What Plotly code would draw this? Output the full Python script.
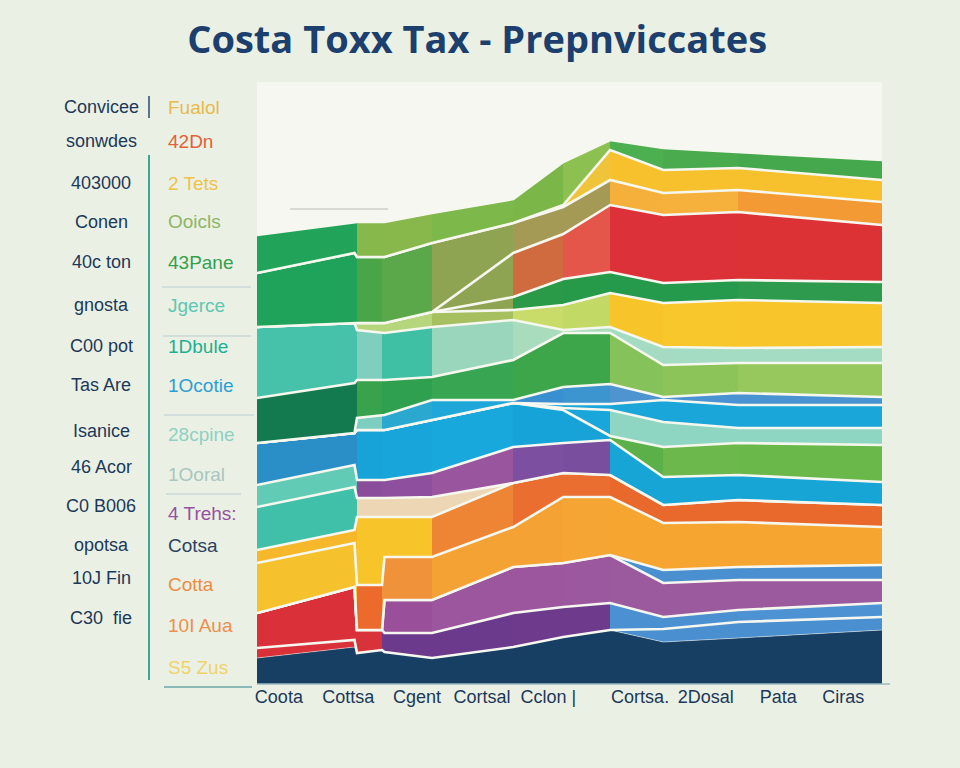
import plotly.graph_objects as go

# ---------------- data ----------------
title_text = "Costa Toxx Tax - Prepnviccates"
x_pos = [0, 15.6, 16, 20, 20.4, 28, 41, 49, 56.5, 65, 77, 100]
tick_pos = [3.5, 14.6, 25.6, 36, 46.6, 61.3, 71.8, 83.4, 93.8]
tick_labels = ["Coota", "Cottsa", "Cgent", "Cortsal", "Cclon |", "Cortsa.", "2Dosal", "Pata", "Ciras"]

left_labels = ["Convicee", "sonwdes", "403000", "Conen", "40c ton", "gnosta", "C00 pot",
               "Tas Are", "Isanice", "46 Acor", "C0 B006", "opotsa", "10J Fin", "C30  fie"]
right_labels = ["Fualol", "42Dn", "2 Tets", "Ooicls", "43Pane", "Jgerce", "1Dbule",
                "1Ocotie", "28cpine", "1Ooral", "4 Trehs:", "Cotsa", "Cotta", "10I Aua", "S5 Zus"]
right_label_colors = ["#e8b94c", "#e2603a", "#efc24a", "#8db566", "#35a04e", "#5ec7b1", "#1faf92",
                      "#2a9fd6", "#8fd0c2", "#a9c6c0", "#9650a0", "#2b4163", "#ee8b45", "#ef8e4c", "#efd36a"]

# cumulative band tops at each x position (bottom -> top)
band_navy = [26, 37, 31, 34, 32, 26, 37, 47, 54, 42, 46, 54]
band_02 = [36, 44, 31, 34, 32, 26, 37, 47, 54, 55, 62, 67]
band_03 = [71, 97, 54, 54, 51, 51, 71, 77, 81, 67, 74, 81]
band_04 = [71, 97, 54, 54, 84, 84, 117, 121, 129, 101, 104, 104]
band_05 = [71, 97, 54, 54, 84, 84, 117, 121, 129, 114, 117, 119]
band_06 = [121, 141, 99, 99, 127, 127, 157, 187, 187, 161, 162, 157]
band_07 = [134, 154, 167, 167, 167, 167, 201, 211, 209, 179, 184, 179]
band_07b = [177, 197, 186, 186, 186, 187, 201, 211, 209, 179, 184, 179]
band_08 = [199, 219, 204, 204, 204, 211, 237, 241, 244, 207, 209, 202]
band_09 = [241, 251, 254, 254, 254, 264, 281, 274, 248, 237, 241, 239]
band_10 = [241, 251, 254, 254, 254, 264, 281, 276, 274, 262, 256, 256]
band_11 = [241, 251, 254, 254, 254, 264, 281, 280, 280, 284, 279, 279]
band_12 = [241, 251, 266, 269, 269, 284, 284, 297, 300, 287, 291, 287]
band_13 = [286, 301, 304, 304, 304, 307, 324, 351, 351, 319, 321, 321]
band_14 = [357, 361, 354, 351, 351, 357, 364, 354, 357, 337, 336, 337]
band_15 = [357, 361, 361, 361, 361, 372, 374, 379, 391, 381, 384, 381]
band_16 = [357, 361, 361, 361, 361, 372, 387, 405, 412, 401, 404, 402]
band_17 = [357, 361, 361, 361, 361, 372, 431, 450, 479, 469, 472, 459]
band_18 = [411, 431, 427, 427, 427, 441, 461, 477, 504, 491, 494, 482]
band_19 = [411, 431, 427, 427, 427, 441, 461, 479, 534, 514, 516, 504]
band_20 = [449, 462, 462, 462, 462, 471, 485, 522, 544, 536, 532, 524]

# colour of each band over each of the 11 x intervals
col_navy = ["#163f63"] * 11
col_02 = ["#d9303a", "#d9303a", "#d9303a", "#6b3a8a", "#6b3a8a", "#6b3a8a", "#6b3a8a", "#6b3a8a", "#4a8fcf", "#4a8fcf", "#4a8fcf"]
col_03 = ["#d9303a", "#d9303a", "#d8323a", "#6c3a8c", "#6c3a8c", "#6c3a8c", "#6e3b8c", "#6e3b8c", "#4b90d0", "#4b90d0", "#4d92d2"]
col_04 = ["#d9303a", "#d9303a", "#d9303a", "#9a4f9a", "#9a4f9a", "#9b569e", "#9b569e", "#9c589e", "#9c5a9e", "#9c5a9e", "#9c5a9e"]
col_05 = ["#d9303a", "#d9303a", "#d9303a", "#9a4f9a", "#9a4f9a", "#9b569e", "#9b569e", "#9c589e", "#4a8fcf", "#4a8fcf", "#4a8fcf"]
col_06 = ["#f5c12c", "#f5c12c", "#eb6a2c", "#f0923a", "#f0923a", "#f4a234", "#f4a234", "#f5a534", "#f6a531", "#f6a531", "#f6a531"]
col_07 = ["#f6b82a", "#f6b82a", "#f7c52a", "#f7c52a", "#f7c52a", "#ee8535", "#ea6e2f", "#ea6e2f", "#e9692c", "#e9692c", "#e9692c"]
col_07b = ["#40c0a8", "#40c0a8", "#ecd6b4", "#ecd6b4", "#ecd6b4", "#ecd6b4", "#ecd6b4", "#ecd6b4", "#ecd6b4", "#ecd6b4", "#ecd6b4"]
col_08 = ["#62cbb6", "#62cbb6", "#8a4d9a", "#8f4f9f", "#8f4f9f", "#9a559f", "#7c4fa0", "#7a4e9e", "#17a5d6", "#17a5d6", "#17a5d6"]
col_09 = ["#2a8fc6", "#2a8fc6", "#17a3d7", "#18a6da", "#18a6da", "#19a8dc", "#15a3d8", "#17a3d7", "#5cb04a", "#6cb84c", "#6ab84a"]
col_10 = ["#2a8fc6", "#2a8fc6", "#17a3d7", "#18a6da", "#18a6da", "#19a8dc", "#15a3d8", "#19a6da", "#8fd6c2", "#8fd6c2", "#8fd6c2"]
col_11 = ["#2a8fc6", "#2a8fc6", "#17a3d7", "#18a6da", "#18a6da", "#19a8dc", "#15a3d8", "#19a6da", "#1aa6d8", "#1aa6d8", "#1aa6d8"]
col_12 = ["#2a8fc6", "#2a8fc6", "#7ccfc0", "#2aa8d0", "#2aa8d0", "#1fa7da", "#3a8fd0", "#3d95d0", "#4e94d0", "#4a93d2", "#4a93d2"]
col_13 = ["#137a50", "#137a50", "#38a24c", "#2fa050", "#2fa050", "#37a552", "#3ea64a", "#3ea64a", "#85c25a", "#8cc45a", "#96c85e"]
col_14 = ["#46c2aa", "#46c2aa", "#80cfbe", "#3fbfa4", "#3fbfa4", "#9ad6bb", "#a8dcbc", "#a8dcbc", "#a3dcc2", "#a3dcc2", "#a3dcc2"]
col_15 = ["#b5d67a", "#b5d67a", "#b5d67a", "#b5d67a", "#b5d67a", "#a6c060", "#c9dc6a", "#c3d966", "#f7c52a", "#f8c72c", "#f8c52a"]
col_16 = ["#8fa452", "#8fa452", "#8fa452", "#8fa452", "#8fa452", "#8fa452", "#2a9a48", "#279a4a", "#259a4c", "#259a4c", "#2d9a4e"]
col_17 = ["#8fa452", "#8fa452", "#8fa452", "#8fa452", "#8fa452", "#8fa452", "#d06a3f", "#e4554a", "#dc3138", "#dc3138", "#dc3236"]
col_18 = ["#1fa35a", "#1fa35a", "#4aa548", "#5aa84a", "#5aa84a", "#8fa452", "#a49a55", "#a49a55", "#f4b03a", "#f5b13c", "#f39a35"]
col_19 = ["#f0c43a", "#f0c43a", "#f0c43a", "#f0c43a", "#f0c43a", "#f0c43a", "#f0c43a", "#f0c43a", "#f6c12c", "#f6c12c", "#f6c12c"]
col_20 = ["#22a35a", "#22a35a", "#86b84c", "#88b84c", "#88b84c", "#7cb94a", "#7ab648", "#8cc152", "#4caf50", "#4aab4e", "#46a84c"]

bands = [band_navy, band_02, band_03, band_04, band_05, band_06, band_07, band_07b, band_08,
         band_09, band_10, band_11, band_12, band_13, band_14, band_15, band_16, band_17,
         band_18, band_19, band_20]
colors = [col_navy, col_02, col_03, col_04, col_05, col_06, col_07, col_07b, col_08,
          col_09, col_10, col_11, col_12, col_13, col_14, col_15, col_16, col_17,
          col_18, col_19, col_20]

# ---------------- figure ----------------
PL, PR, PT, PB = 257, 882, 82, 684
W, H = 960, 768
X0, X1 = 0, 100


def step_scale(cols):
    scale = []
    for i, c in enumerate(cols):
        a = (x_pos[i] - X0) / (X1 - X0)
        b = (x_pos[i + 1] - X0) / (X1 - X0)
        scale.append([a, c])
        scale.append([b, c])
    return scale


fig = go.Figure()
prev = [0] * len(x_pos)
for k, (tops, cols) in enumerate(zip(bands, colors)):
    thick = [t - p for t, p in zip(tops, prev)]
    prev = tops
    fig.add_trace(go.Scatter(
        x=x_pos, y=thick, mode="lines", stackgroup="one",
        line=dict(color="#f6f7ee", width=2.6 if k > 0 else 0.5),
        fillcolor=cols[-1],
        fillgradient=dict(type="horizontal", start=X0, stop=X1, colorscale=step_scale(cols)),
        hoverinfo="skip", showlegend=False,
    ))


def px_x(px):
    return (px - PL) / (PR - PL)


def px_y(py):
    return (PB - py) / (PB - PT)


left_y = [107, 141, 183, 222, 262, 305, 346, 385, 431, 467, 506, 545, 578, 618]
right_y = [107, 141, 183, 222, 262, 305, 346, 385, 434, 474, 513, 545, 584, 625, 667]

annotations = []
for t, py in zip(left_labels, left_y):
    annotations.append(dict(x=px_x(101), y=px_y(py), xref="paper", yref="paper", text=t,
                            showarrow=False, xanchor="center", yanchor="middle",
                            font=dict(family="Liberation Sans, Arial", size=18, color="#1c385a")))
for t, py, c in zip(right_labels, right_y, right_label_colors):
    annotations.append(dict(x=px_x(166), y=px_y(py), xref="paper", yref="paper", text=t,
                            showarrow=False, xanchor="left", yanchor="middle",
                            font=dict(family="Liberation Sans, Arial", size=19, color=c)))

shapes = [
    dict(type="line", xref="paper", yref="paper", x0=px_x(149), x1=px_x(149), y0=px_y(96), y1=px_y(118),
         line=dict(color="#2b4a6a", width=1.5)),
    dict(type="line", xref="paper", yref="paper", x0=px_x(149), x1=px_x(149), y0=px_y(155), y1=px_y(680),
         line=dict(color="#3aa79a", width=2)),
    dict(type="line", xref="paper", yref="paper", x0=px_x(162), x1=px_x(251), y0=px_y(287), y1=px_y(287),
         line=dict(color="#b9cbd0", width=1)),
    dict(type="line", xref="paper", yref="paper", x0=px_x(163), x1=px_x(251), y0=px_y(336), y1=px_y(336),
         line=dict(color="#b9cbd0", width=1)),
    dict(type="line", xref="paper", yref="paper", x0=px_x(164), x1=px_x(254), y0=px_y(415), y1=px_y(415),
         line=dict(color="#b9cbd0", width=1)),
    dict(type="line", xref="paper", yref="paper", x0=px_x(166), x1=px_x(241), y0=px_y(494), y1=px_y(494),
         line=dict(color="#b9cbd0", width=1)),
    dict(type="line", xref="paper", yref="paper", x0=px_x(164), x1=px_x(252), y0=px_y(687), y1=px_y(687),
         line=dict(color="#6aa6a8", width=1.5)),
    dict(type="line", xref="paper", yref="paper", x0=px_x(290), x1=px_x(388), y0=px_y(209), y1=px_y(209),
         line=dict(color="#b8bcb8", width=1)),
    dict(type="line", xref="paper", yref="paper", x0=px_x(257), x1=px_x(890), y0=0, y1=0,
         line=dict(color="#9db8c2", width=1.5)),
]

fig.update_layout(
    width=W, height=H,
    margin=dict(l=PL, r=W - PR, t=PT, b=H - PB),
    paper_bgcolor="#eaf1e4",
    plot_bgcolor="#f6f7f0",
    title=dict(text=f"<b>{title_text}</b>", x=0.497, xanchor="center", y=0.948, yanchor="middle",
               font=dict(family="Open Sans, Liberation Sans", size=38, color="#1d3f6d")),
    xaxis=dict(range=[X0, X1], showgrid=False, zeroline=False, showline=False,
               tickmode="array", tickvals=tick_pos, ticktext=tick_labels, ticks="",
               tickfont=dict(family="Liberation Sans, Arial", size=18, color="#1c385a")),
    yaxis=dict(range=[0, PB - PT], showgrid=False, zeroline=False, showticklabels=False, showline=False),
    annotations=annotations,
    shapes=shapes,
    hovermode=False,
)

fig.write_html(
    "out.html",
    config={"displayModeBar": False, "staticPlot": True},
    post_script="document.body.style.margin='0';document.body.style.padding='0';"
                "document.body.style.overflow='hidden';document.body.style.background='#eaf1e4';",
)
